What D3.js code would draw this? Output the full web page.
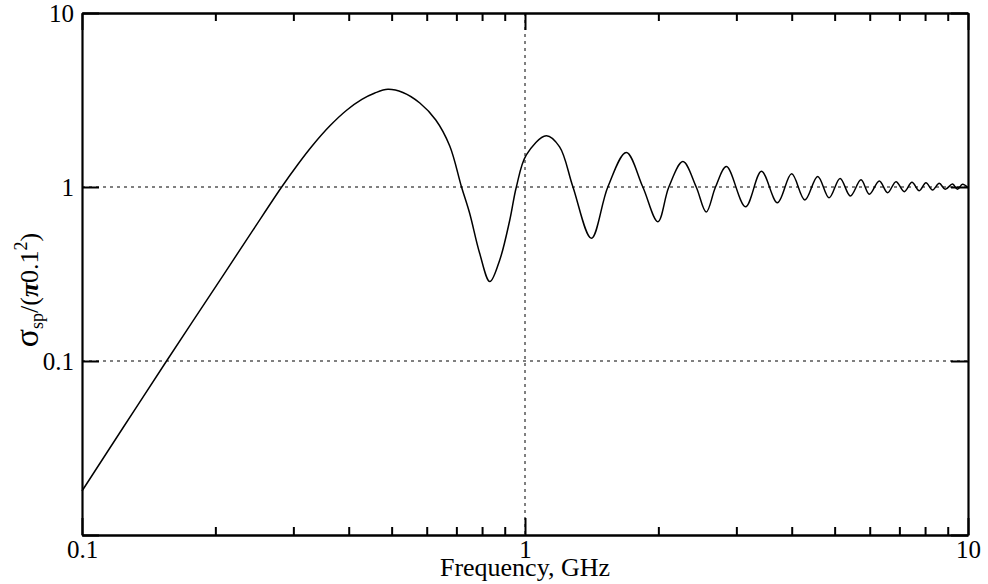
<!DOCTYPE html>
<html><head><meta charset="utf-8">
<script src="https://cdn.jsdelivr.net/npm/d3@7"></script>
<style>body{margin:0;background:#fff}svg{display:block}</style>
</head><body>
<svg id="c" width="988" height="584"></svg>
<script>
const freqGHz = [0.1,0.1245,0.1548,0.2092,0.2432,0.2823,0.3073,0.3321,0.3628,0.3963,0.4283,0.4583,0.4903,0.530,0.5789,0.629,0.6763,0.719,0.750,0.790,0.833,0.877,0.924,0.956,1.007,1.117,1.197,1.283,1.412,1.538,1.693,1.845,1.995,2.112,2.272,2.435,2.565,2.692,2.850,3.146,3.418,3.714,3.998,4.283,4.578,4.858,5.143,5.425,5.735,5.988,6.306,6.584,6.878,7.181,7.473,7.762,8.036,8.318,8.611,8.884,9.226,9.469,9.718,10];
const sigmaNorm = [0.0179,0.0423,0.099,0.316,0.565,1.0,1.352,1.743,2.247,2.77,3.187,3.47,3.643,3.493,3.04,2.427,1.72,1.0,0.706,0.416,0.286,0.381,0.646,1.0,1.53,1.97,1.70,1.0,0.507,1.0,1.58,1.0,0.632,1.0,1.40,1.0,0.718,1.0,1.31,0.770,1.23,0.812,1.19,0.842,1.15,0.867,1.12,0.888,1.10,0.908,1.083,0.927,1.073,0.940,1.064,0.952,1.058,0.961,1.050,0.970,1.040,0.970,1.036,0.99];
const xMajorTicks = [0.1, 1, 10];
const xTickLabels = ["0.1", "1", "10"];
const xMinorTicks = [0.2,0.3,0.4,0.5,0.6,0.7,0.8,0.9,2,3,4,5,6,7,8,9];
const yMajorTicks = [0.01, 0.1, 1, 10];
const yTickLabels = ["", "0.1", "1", "10"];
const xGrid = [1];
const yGrid = [0.1, 1];
const xTitle = "Frequency, GHz";

const svg = d3.select("#c");
const L = 82, R = 968, T = 13, B = 535;
const x = d3.scaleLog().domain([0.1, 10]).range([L, R]);
const y = d3.scaleLog().domain([0.01, 10]).range([B, T]);
const font = "'Liberation Serif', 'Times New Roman', serif";

// grid
const g = svg.append("g").attr("stroke", "#000").attr("stroke-width", 1).attr("stroke-dasharray", "3,4");
g.selectAll("line.gx").data(xGrid).join("line").attr("x1", d => x(d)).attr("x2", d => x(d)).attr("y1", T).attr("y2", B);
g.selectAll("line.gy").data(yGrid).join("line").attr("x1", L).attr("x2", R).attr("y1", d => y(d)).attr("y2", d => y(d));

// curve
const pts = freqGHz.map((f, i) => [f, sigmaNorm[i]]);
const line = d3.line().x(d => x(d[0])).y(d => y(d[1])).curve(d3.curveCatmullRom.alpha(0.5));
svg.append("path").datum(pts).attr("d", line).attr("fill", "none").attr("stroke", "#000").attr("stroke-width", 1.5);

function styleAxis(sel) {
  sel.selectAll(".domain").attr("stroke", "#000").attr("stroke-width", 2.2);
  sel.selectAll(".tick line").attr("stroke", "#000").attr("stroke-width", 2);
  sel.selectAll("text").attr("font-family", font).attr("font-size", 25).attr("fill", "#000");
}
const xMap = new Map(xMajorTicks.map((v, i) => [v, xTickLabels[i]]));
const yMap = new Map(yMajorTicks.map((v, i) => [v, yTickLabels[i]]));

svg.append("g").attr("transform", `translate(0,${B})`)
  .call(d3.axisBottom(x).tickValues(xMinorTicks).tickSize(-8).tickSizeOuter(0).tickFormat(""))
  .call(styleAxis);
svg.append("g").attr("transform", `translate(0,${B})`)
  .call(d3.axisBottom(x).tickValues(xMajorTicks).tickSize(-17).tickSizeOuter(0).tickPadding(5).tickFormat(d => xMap.get(d)))
  .call(styleAxis);
svg.append("g").attr("transform", `translate(0,${T})`)
  .call(d3.axisTop(x).tickValues(xMinorTicks).tickSize(-8).tickSizeOuter(0).tickFormat(""))
  .call(styleAxis);
svg.append("g").attr("transform", `translate(0,${T})`)
  .call(d3.axisTop(x).tickValues(xMajorTicks).tickSize(-17).tickSizeOuter(0).tickFormat(""))
  .call(styleAxis);
svg.append("g").attr("transform", `translate(${L},0)`)
  .call(d3.axisLeft(y).tickValues(yMajorTicks).tickSize(-17).tickSizeOuter(0).tickPadding(8).tickFormat(d => yMap.get(d)))
  .call(styleAxis);
svg.append("g").attr("transform", `translate(${R},0)`)
  .call(d3.axisRight(y).tickValues(yMajorTicks).tickSize(-17).tickSizeOuter(0).tickFormat(""))
  .call(styleAxis);

// x title
svg.append("text").attr("x", (L + R) / 2).attr("y", 576).attr("text-anchor", "middle")
  .attr("font-family", font).attr("font-size", 26).text(xTitle);

// y title
const yt = svg.append("text").attr("transform", "translate(38,290) rotate(-90)")
  .attr("text-anchor", "middle").attr("font-family", font).attr("font-size", 26);
yt.append("tspan").attr("font-size", 34).text("σ");
yt.append("tspan").attr("font-size", 18).attr("dy", 5).text("sp");
yt.append("tspan").attr("dy", -5).text("/(");
yt.append("tspan").attr("font-style", "italic").attr("font-weight", "bold").text("π");
yt.append("tspan").text("0.1");
yt.append("tspan").attr("font-size", 18).attr("dy", -11).text("2");
yt.append("tspan").attr("dy", 11).text(")");
</script>
</body></html>
